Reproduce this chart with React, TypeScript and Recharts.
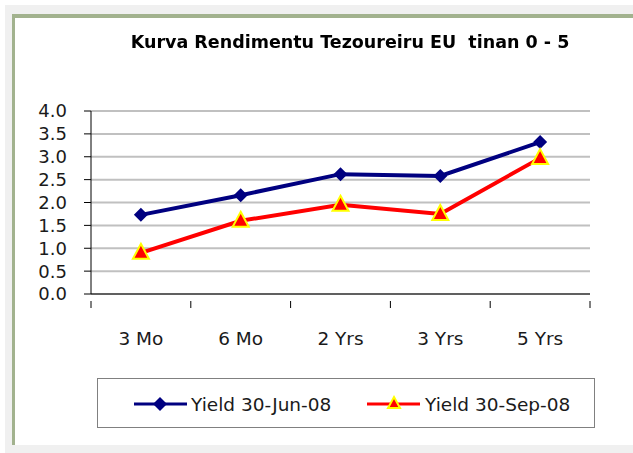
import { CartesianGrid, Line, LineChart, XAxis, YAxis } from "recharts";

const categories = ["3 Mo", "6 Mo", "2 Yrs", "3 Yrs", "5 Yrs"];
const yieldJun = [1.73, 2.16, 2.62, 2.58, 3.32];
const yieldSep = [0.9, 1.6, 1.95, 1.75, 2.97];
const yTicks = [0, 0.5, 1, 1.5, 2, 2.5, 3, 3.5, 4];
const seriesNames = ["Yield 30-Jun-08", "Yield 30-Sep-08"];

const data = categories.map((cat, i) => ({ cat, jun: yieldJun[i], sep: yieldSep[i] }));

const FONT = "'DejaVu Sans', sans-serif";
const CHART_W = 621;
const CHART_H = 431;
const MARGIN = { top: 97, right: 43, left: 19, bottom: 121 };
const BAND = (CHART_W - MARGIN.left - 60 - MARGIN.right) / categories.length;

function Diamond({ cx, cy }: any) {
  if (cx == null || cy == null) return null;
  const r = 7;
  return <polygon points={`${cx},${cy - r} ${cx + r},${cy} ${cx},${cy + r} ${cx - r},${cy}`} fill="#000080" />;
}

function Triangle({ cx, cy }: any) {
  if (cx == null || cy == null) return null;
  return (
    <polygon
      points={`${cx},${cy - 9} ${cx + 8},${cy + 6} ${cx - 8},${cy + 6}`}
      fill="#ff0000"
      stroke="#ffff00"
      strokeWidth={2}
    />
  );
}

function XTick({ x, y, payload, index }: any) {
  const left = x - BAND / 2;
  return (
    <g>
      <line x1={left} y1={y - 1} x2={left} y2={y + 6} stroke="#000" />
      {index === categories.length - 1 && (
        <line x1={x + BAND / 2} y1={y - 1} x2={x + BAND / 2} y2={y + 6} stroke="#000" />
      )}
      <text x={x} y={y + 43} textAnchor="middle" fontSize={18.5} fontFamily={FONT} fill="#1a1a1a">
        {payload.value}
      </text>
    </g>
  );
}

export default function App() {
  return (
    <div style={{ position: "fixed", left: 0, top: 0, width: 633, height: 453, background: "#fff" }}>
      <div style={{ position: "absolute", left: 5, top: 5, width: 628, height: 448, background: "#f0f0f0" }} />
      <div
        style={{
          position: "absolute",
          left: 12,
          top: 14,
          width: CHART_W,
          height: CHART_H,
          background: "#fff",
          borderTop: "4px solid #a2b28e",
          borderLeft: "3px solid #a2b28e",
          boxSizing: "border-box",
        }}
      />
      <div style={{ position: "absolute", left: 12, top: 14 }}>
        <LineChart width={CHART_W} height={CHART_H} data={data} margin={MARGIN}>
          <CartesianGrid vertical={false} stroke="#c0c0c0" strokeWidth={2} />
          <XAxis
            dataKey="cat"
            scale="band"
            axisLine={{ stroke: "#000" }}
            tickLine={false}
            tick={<XTick />}
            interval={0}
            height={30}
          />
          <YAxis
            domain={[0, 4]}
            ticks={yTicks}
            interval={0}
            width={60}
            axisLine={{ stroke: "#000" }}
            tickLine={{ stroke: "#000" }}
            tickSize={7}
            tickMargin={17}
            tickFormatter={(v: number) => v.toFixed(1)}
            tick={{ fontSize: 18, fontFamily: FONT, fill: "#1a1a1a" }}
          />
          <Line
            dataKey="jun"
            name={seriesNames[0]}
            stroke="#000080"
            strokeWidth={4}
            dot={<Diamond />}
            isAnimationActive={false}
          />
          <Line
            dataKey="sep"
            name={seriesNames[1]}
            stroke="#ff0000"
            strokeWidth={4}
            dot={<Triangle />}
            isAnimationActive={false}
          />
        </LineChart>
      </div>
      <div
        style={{
          position: "absolute",
          left: 0,
          top: 32,
          width: 700,
          textAlign: "center",
          fontFamily: FONT,
          fontWeight: "bold",
          fontSize: 17.5,
          color: "#000",
          whiteSpace: "pre",
        }}
      >
        {"Kurva Rendimentu Tezoureiru EU  tinan 0 - 5"}
      </div>
      <div
        style={{
          position: "absolute",
          left: 97,
          top: 378,
          width: 498,
          height: 50,
          border: "1px solid #808080",
          boxSizing: "border-box",
          background: "#fff",
        }}
      >
        <svg width={498} height={50} style={{ position: "absolute", left: 0, top: 0 }}>
          <line x1={36} y1={25} x2={89} y2={25} stroke="#000080" strokeWidth={3} />
          <Diamond cx={62} cy={25} />
          <text x={93} y={32} fontSize={18.5} fontFamily={FONT} fill="#1a1a1a">
            {seriesNames[0]}
          </text>
          <line x1={269} y1={25} x2={322} y2={25} stroke="#ff0000" strokeWidth={3} />
          <polygon points="296,18 302,29 290,29" fill="#ff0000" stroke="#ffff00" strokeWidth={2} />
          <text x={327} y={32} fontSize={18.5} fontFamily={FONT} fill="#1a1a1a">
            {seriesNames[1]}
          </text>
        </svg>
      </div>
    </div>
  );
}
